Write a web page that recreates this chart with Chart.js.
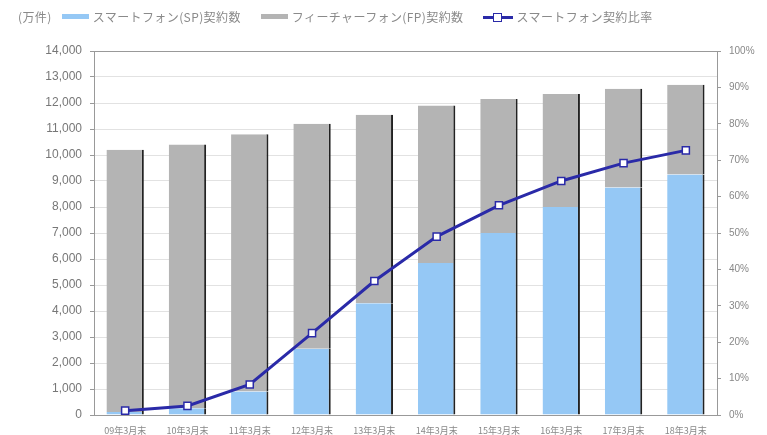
<!DOCTYPE html>
<html><head><meta charset="utf-8">
<script src="https://cdn.jsdelivr.net/npm/chart.js@4/dist/chart.umd.min.js"></script>
<style>
html,body{margin:0;padding:0;background:#fff;}
#wrap{position:relative;width:767px;height:435px;font-family:"Noto Sans CJK JP",sans-serif;}
canvas{position:absolute;left:0;top:0;}
#legend{position:absolute;top:8px;left:18px;font-size:12px;color:#8a8a8a;white-space:nowrap;display:flex;align-items:center;letter-spacing:0.4px;}
#legend .unit{margin-right:10px;}
#legend .it{display:flex;align-items:center;margin-right:20px;}
#legend .sw{display:inline-block;width:27px;height:5px;margin-right:4px;}
#legend .ln{position:relative;display:inline-block;width:30px;height:12px;margin-right:3px;}
#legend .ln:before{content:"";position:absolute;left:0;right:0;top:5px;height:3px;background:#2a2aa8;}
#legend .ln:after{content:"";position:absolute;left:10px;top:2px;width:7px;height:7px;background:#fff;border:1.5px solid #2a2aa8;}
</style></head><body>
<div id="wrap">
<canvas id="c" width="767" height="435"></canvas>
<div id="legend">
  <span class="unit">(万件)</span>
  <span class="it"><span class="sw" style="background:#95c8f5"></span>スマートフォン(SP)契約数</span>
  <span class="it"><span class="sw" style="background:#b4b4b4"></span>フィーチャーフォン(FP)契約数</span>
  <span class="it"><span class="ln"></span>スマートフォン契約比率</span>
</div>
</div>
<script>
const categories = ["09年3月末","10年3月末","11年3月末","12年3月末","13年3月末","14年3月末","15年3月末","16年3月末","17年3月末","18年3月末"];
const smartphone = [120, 260, 900, 2550, 4300, 5850, 7000, 8000, 8750, 9250];
const total = [10200, 10400, 10800, 11200, 11550, 11900, 12150, 12350, 12550, 12700];
const featurephone = total.map((t, i) => t - smartphone[i]);
const ratio = [1.2, 2.5, 8.4, 22.5, 36.8, 49.0, 57.6, 64.3, 69.2, 72.7];
const leftTicks = [0,1000,2000,3000,4000,5000,6000,7000,8000,9000,10000,11000,12000,13000,14000];
const rightTicks = [0,10,20,30,40,50,60,70,80,90,100];

const borderPlugin = {
  id: 'frame',
  afterDatasetsDraw(chart) {
    const a = chart.chartArea, ctx = chart.ctx;
    ctx.save();
    ctx.strokeStyle = '#999';
    ctx.lineWidth = 1;
    ctx.strokeRect(a.left + 0.5, a.top + 0.5, a.right - a.left, a.bottom - a.top);
    ctx.restore();
  }
};

new Chart(document.getElementById('c'), {
  data: {
    labels: categories,
    datasets: [
      { type: 'line', label: 'スマートフォン契約比率', data: ratio, yAxisID: 'y2',
        borderColor: '#2a2aa8', borderWidth: 3, pointStyle: 'rect', pointRadius: 5,
        pointBackgroundColor: '#fff', pointBorderColor: '#2a2aa8', pointBorderWidth: 1.5,
        tension: 0, order: 0 },
      { type: 'bar', label: 'スマートフォン(SP)契約数', data: smartphone, yAxisID: 'y',
        backgroundColor: '#95c8f5', borderColor: '#222', borderWidth: {right: 2, left:0, top:0, bottom:0},
        borderSkipped: false, stack: 's', barPercentage: 0.6, categoryPercentage: 1, order: 1 },
      { type: 'bar', label: 'フィーチャーフォン(FP)契約数', data: featurephone, yAxisID: 'y',
        backgroundColor: '#b4b4b4', borderColor: '#222', borderWidth: {right: 2, left:0, top:0, bottom:0},
        borderSkipped: false, stack: 's', barPercentage: 0.6, categoryPercentage: 1, order: 1 }
    ]
  },
  options: {
    responsive: false, animation: false,
    layout: { padding: { top: 51, right: 0, left: 0, bottom: 0 } },
    plugins: { legend: { display: false }, tooltip: { enabled: false } },
    scales: {
      x: { stacked: true, grid: { display: false },
        border: { color: '#999' },
        ticks: { color: '#888', font: { size: 9, family: '"Noto Sans CJK JP"' }, maxRotation: 0, padding: 2 },
        afterFit(s) { s.height = 20; } },
      y: { stacked: true, position: 'left', min: 0, max: 14000,
        afterBuildTicks(s) { s.ticks = leftTicks.map(v => ({ value: v })); },
        grid: { color: '#e2e2e2', tickLength: 4, tickColor: '#999' },
        border: { color: '#999' },
        ticks: { color: '#777', font: { size: 12, family: 'Arial, "Liberation Sans"' },
          callback: v => v.toLocaleString('en-US'), padding: 8 },
        afterFit(s) { s.width = 94; } },
      y2: { position: 'right', min: 0, max: 100,
        afterBuildTicks(s) { s.ticks = rightTicks.map(v => ({ value: v })); },
        grid: { drawOnChartArea: false, tickLength: 4, tickColor: '#999' },
        border: { color: '#999' },
        ticks: { color: '#888', font: { size: 10, family: 'Arial, "Liberation Sans"' },
          callback: v => v + '%', padding: 8 },
        afterFit(s) { s.width = 50; } }
    }
  },
  plugins: [borderPlugin]
});
</script>
</body></html>
